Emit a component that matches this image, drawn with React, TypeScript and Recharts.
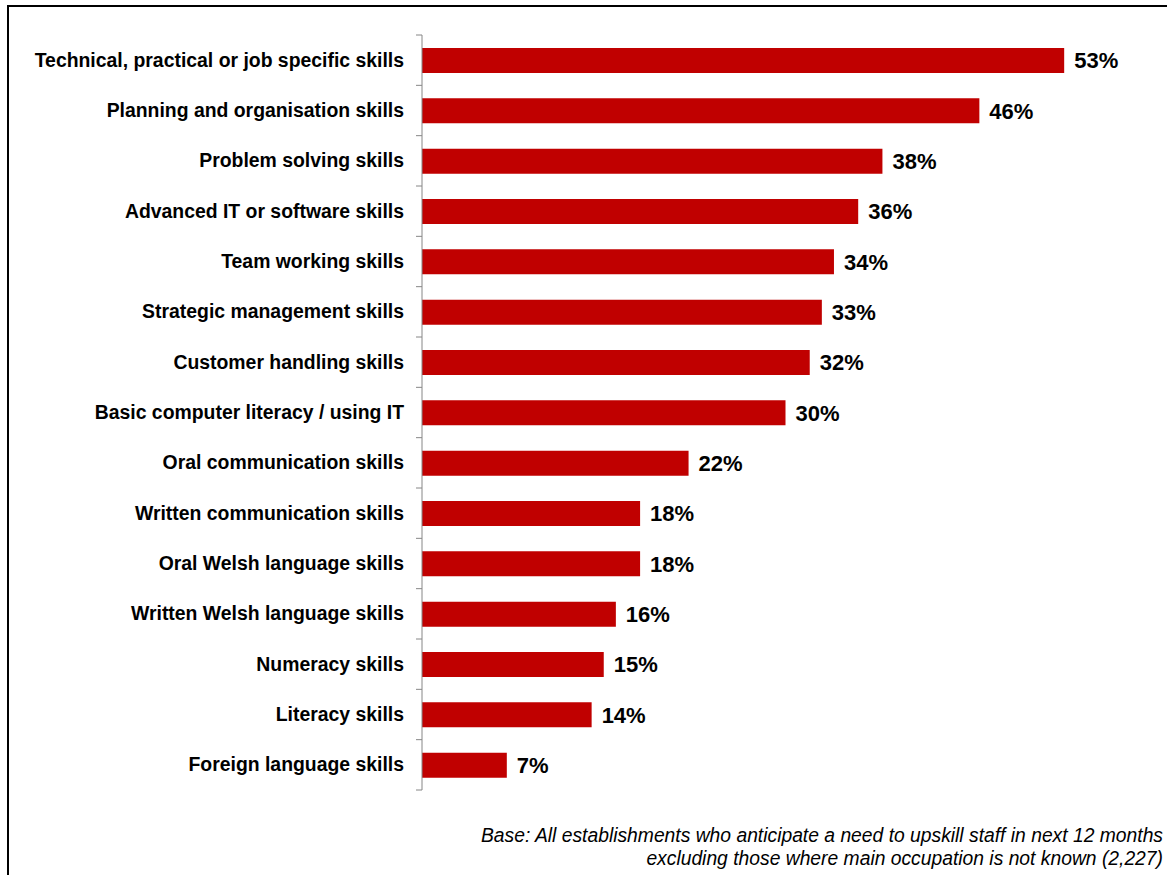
import { Bar, BarChart, LabelList, XAxis, YAxis } from 'recharts'

const skills = [
  'Technical, practical or job specific skills',
  'Planning and organisation skills',
  'Problem solving skills',
  'Advanced IT or software skills',
  'Team working skills',
  'Strategic management skills',
  'Customer handling skills',
  'Basic computer literacy / using IT',
  'Oral communication skills',
  'Written communication skills',
  'Oral Welsh language skills',
  'Written Welsh language skills',
  'Numeracy skills',
  'Literacy skills',
  'Foreign language skills',
]

const shares = [53, 46, 38, 36, 34, 33, 32, 30, 22, 18, 18, 16, 15, 14, 7]

const footnote = [
  'Base: All establishments who anticipate a need to upskill staff in next 12 months',
  'excluding those where main occupation is not known (2,227)',
]

const FONT = '"Liberation Sans", Arial, sans-serif'
const W = 1167
const H = 875
const TOP = 35
const BOTTOM = 85
const AXIS_GREY = '#868686'

const data = skills.map((label, i) => ({ label, value: shares[i] }))
const band = (H - TOP - BOTTOM) / data.length

function SkillTick(props: any) {
  const { x, y, payload, index } = props
  const axisX = x + 16
  return (
    <g>
      <line x1={axisX - 6} x2={axisX} y1={y - band / 2} y2={y - band / 2} stroke={AXIS_GREY} />
      {index === data.length - 1 && (
        <line x1={axisX - 6} x2={axisX} y1={y + band / 2} y2={y + band / 2} stroke={AXIS_GREY} />
      )}
      <text
        x={x - 2}
        y={y}
        dy={6.5}
        textAnchor="end"
        fontFamily={FONT}
        fontWeight="bold"
        fontSize={19.4}
        fill="#000"
      >
        {payload.value}
      </text>
    </g>
  )
}

export default function App() {
  return (
    <div
      style={{
        position: 'absolute',
        left: 0,
        top: 0,
        width: W,
        height: H,
        overflow: 'hidden',
        background: '#fff',
      }}
    >
      <div
        style={{
          position: 'absolute',
          left: 7,
          top: 5,
          width: 1200,
          height: 900,
          border: '2px solid #000',
        }}
      />
      <div style={{ position: 'absolute', left: 0, top: 0 }}>
        <BarChart
          width={W}
          height={H}
          data={data}
          layout="vertical"
          margin={{ top: TOP, right: 18, bottom: BOTTOM, left: 0 }}
          barSize={25}
        >
          <XAxis type="number" domain={[0, 60]} hide />
          <YAxis
            type="category"
            dataKey="label"
            width={422}
            axisLine={{ stroke: AXIS_GREY }}
            tickLine={false}
            tickSize={6}
            tickMargin={10}
            interval={0}
            tick={<SkillTick />}
          />
          <Bar dataKey="value" fill="#C00000" isAnimationActive={false}>
            <LabelList
              dataKey="value"
              position="right"
              offset={10}
              formatter={(v: any) => `${v}%`}
              style={{ fontFamily: FONT, fontWeight: 'bold', fontSize: 22, fill: '#000' }}
            />
          </Bar>
        </BarChart>
      </div>
      <div
        style={{
          position: 'absolute',
          right: 4,
          top: 824,
          textAlign: 'right',
          fontFamily: FONT,
          fontStyle: 'italic',
          fontSize: 19.3,
          lineHeight: '23px',
          color: '#000',
          whiteSpace: 'nowrap',
        }}
      >
        {footnote.map((line) => (
          <div key={line}>{line}</div>
        ))}
      </div>
    </div>
  )
}
